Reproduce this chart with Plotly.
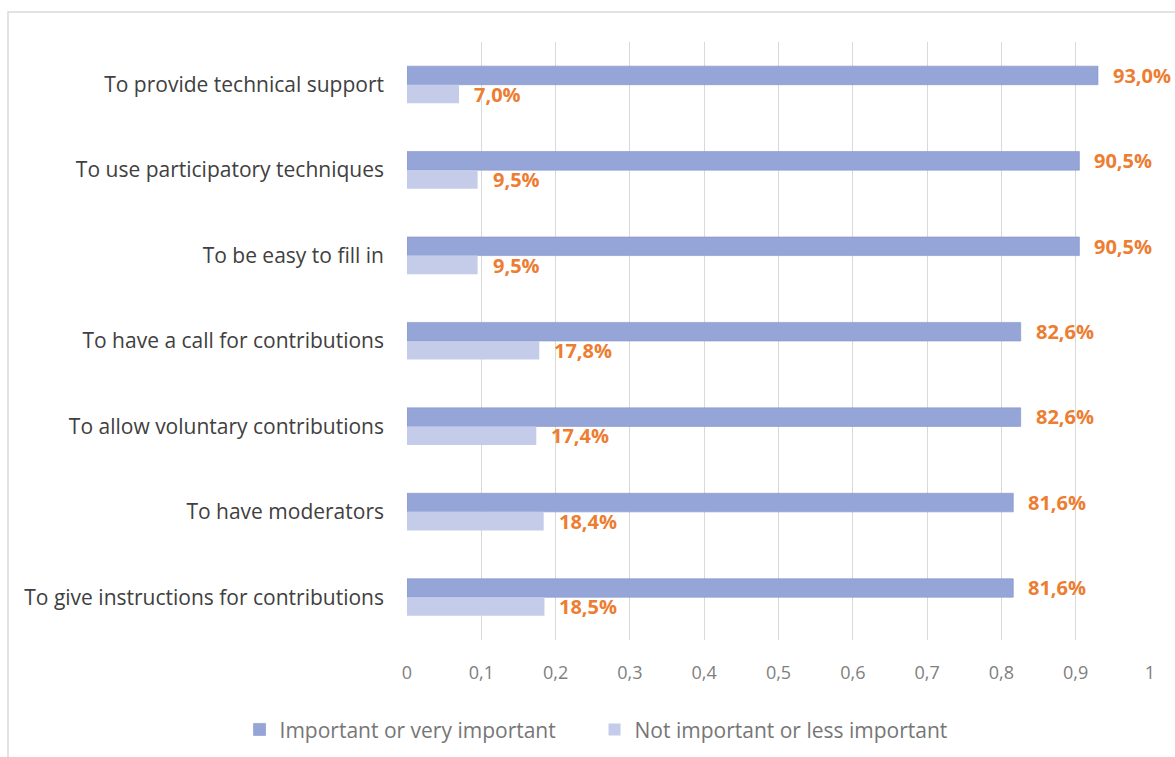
import plotly.graph_objects as go

# Survey items, listed top to bottom
categories = [
    "To provide technical support",
    "To use participatory techniques",
    "To be easy to fill in",
    "To have a call for contributions",
    "To allow voluntary contributions",
    "To have moderators",
    "To give instructions for contributions",
]
important = [0.930, 0.905, 0.905, 0.826, 0.826, 0.816, 0.816]
not_important = [0.070, 0.095, 0.095, 0.178, 0.174, 0.184, 0.185]

series_names = ["Important or very important", "Not important or less important"]
tick_vals = [0, 0.1, 0.2, 0.3, 0.4, 0.5, 0.6, 0.7, 0.8, 0.9, 1]
tick_text = ["0", "0,1", "0,2", "0,3", "0,4", "0,5", "0,6", "0,7", "0,8", "0,9", "1"]

FONT = "Open Sans"
DARK = "#95A5D8"
LIGHT = "#C4CCEA"
ORANGE = "#ED7D31"

PLOT_L, PLOT_R, PLOT_T, PLOT_B = 407, 1150, 42, 640
W, H = 1175, 757


def pct(v):
    return f"{v * 100:.1f}".replace(".", ",") + "%"


fig = go.Figure()
fig.add_trace(go.Bar(
    y=categories, x=important, orientation="h", name=series_names[0],
    marker=dict(color=DARK, line=dict(color="#8494C9", width=0.6)),
))
fig.add_trace(go.Bar(
    y=categories, x=not_important, orientation="h", name=series_names[1],
    marker=dict(color=LIGHT, line=dict(color=LIGHT, width=0)),
))

# Value labels to the right of each bar
for cat, a, b in zip(categories, important, not_important):
    for val, shift in ((a, 9.5), (b, -9.5)):
        fig.add_annotation(
            x=val, y=cat, text=f"<b>{pct(val)}</b>", showarrow=False,
            xanchor="left", yanchor="middle", xshift=13, yshift=shift,
            font=dict(family=FONT, size=20, color=ORANGE),
        )

# Outer chart frame
pw, ph = PLOT_R - PLOT_L, PLOT_B - PLOT_T
fig.add_shape(
    type="rect", xref="paper", yref="paper",
    x0=(8 - PLOT_L) / pw, x1=(1190 - PLOT_L) / pw,
    y0=(PLOT_B - 775) / ph, y1=(PLOT_B - 12) / ph,
    line=dict(color="#D9D9D9", width=1.5), fillcolor="rgba(0,0,0,0)", layer="below",
)

fig.update_layout(
    width=W, height=H,
    margin=dict(l=PLOT_L, r=W - PLOT_R, t=PLOT_T, b=H - PLOT_B),
    paper_bgcolor="white", plot_bgcolor="white",
    barmode="group", bargap=0.565, bargroupgap=0,
    font=dict(family=FONT),
    showlegend=True,
    legend=dict(
        orientation="h", xref="container", yref="container",
        x=0.506, xanchor="center", y=0.036, yanchor="middle",
        font=dict(family=FONT, size=21, color="#767676"),
        traceorder="normal", itemwidth=30, entrywidth=310,
    ),
    xaxis=dict(
        range=[0, 1], tickvals=tick_vals, ticktext=tick_text,
        showgrid=True, gridcolor="#D9D9D9", gridwidth=1.3,
        zeroline=False, showline=False,
        tickfont=dict(family=FONT, size=18, color="#808080"),
        ticklabelstandoff=20,
    ),
    yaxis=dict(
        autorange="reversed", showgrid=False, zeroline=False, showline=False,
        tickfont=dict(family=FONT, size=21, color="#404040"),
        ticklabelstandoff=22,
    ),
)

fig.write_html("out.html")
